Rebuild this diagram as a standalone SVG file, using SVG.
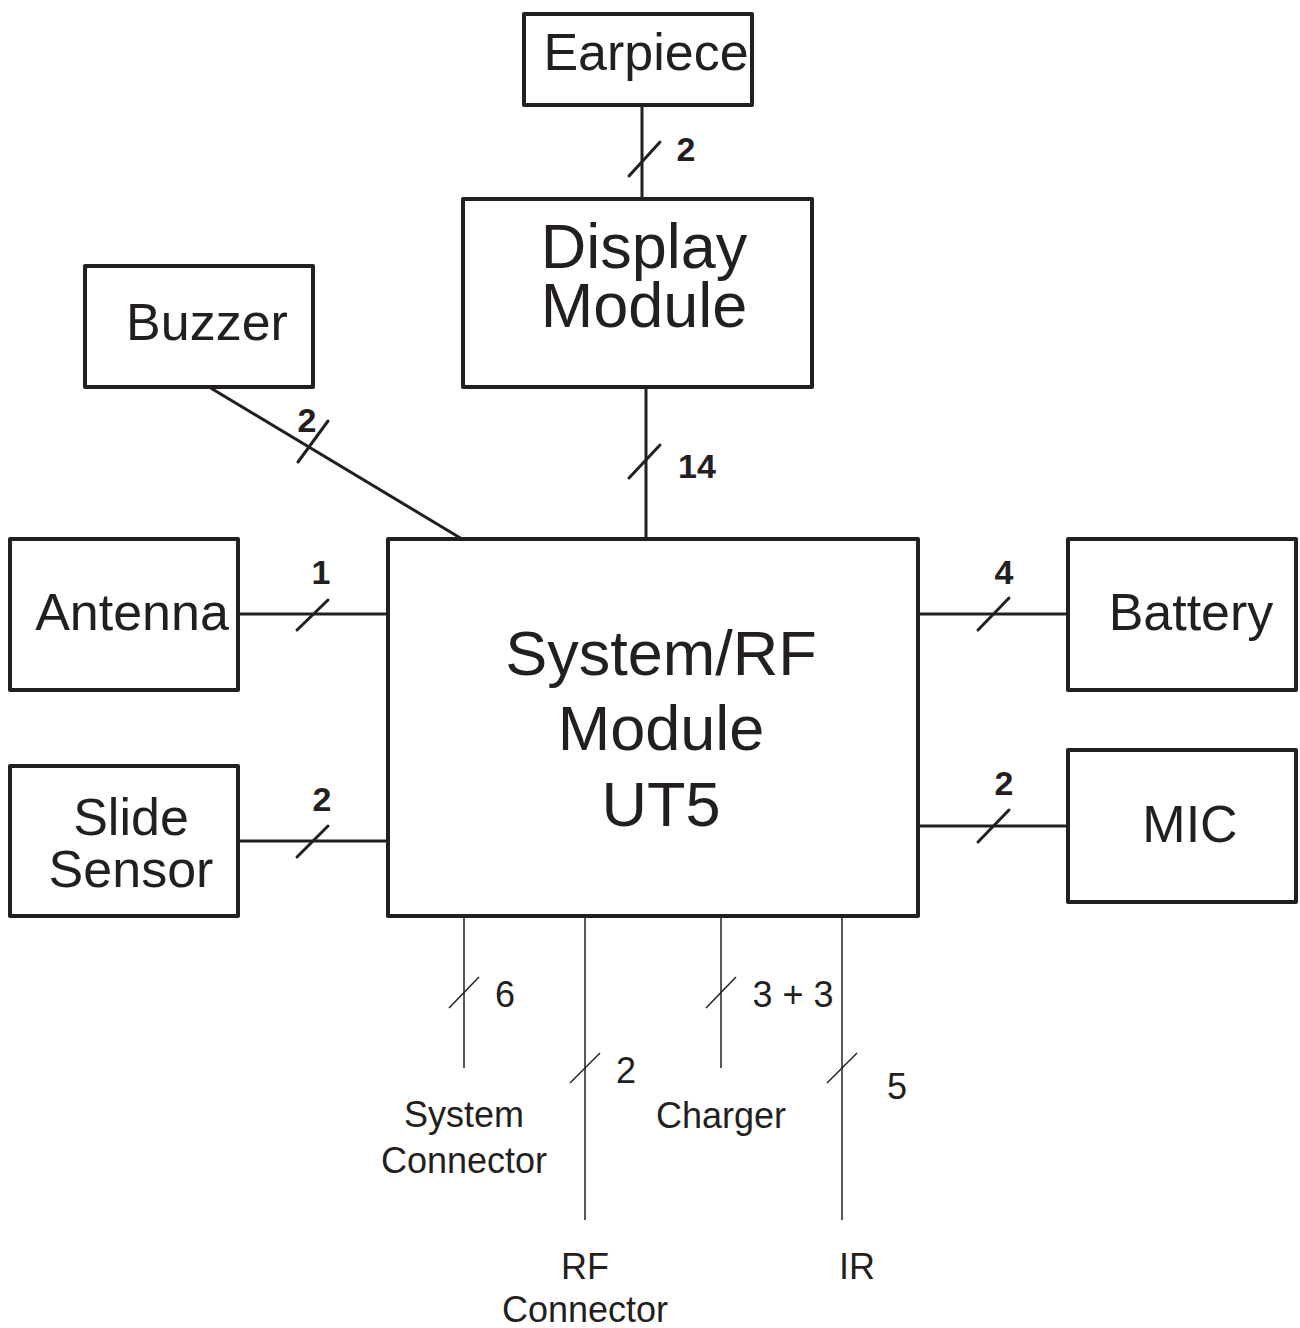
<svg xmlns="http://www.w3.org/2000/svg" width="1300" height="1328" viewBox="0 0 1300 1328">
<style>
.box{fill:#fff;stroke:#231f20;stroke-width:4;stroke-linejoin:round}
.t{font-family:"Liberation Sans",Arial,sans-serif;fill:#231f20;text-anchor:middle}
.big{font-size:52px}
.huge{font-size:63px}
.b{font-family:"Liberation Sans",Arial,sans-serif;font-weight:bold;font-size:34px;fill:#231f20;text-anchor:middle}
.s{font-family:"Liberation Sans",Arial,sans-serif;font-size:36px;fill:#231f20;text-anchor:middle}
.w{stroke:#231f20;stroke-width:3;fill:none;stroke-linecap:round}
.thin{stroke:#231f20;stroke-width:1.5;fill:none}
</style>
<rect width="1300" height="1328" fill="#fff"/>
<g id="connectors">
<line class="w" x1="642" y1="105" x2="642" y2="199"/>
<line class="w" x1="629" y1="176" x2="660" y2="142"/>
<text class="b" x="686" y="161">2</text>
<line class="w" x1="646" y1="387" x2="646" y2="539"/>
<line class="w" x1="629" y1="478" x2="660" y2="445"/>
<text class="b" x="697" y="478">14</text>
<line class="w" x1="209" y1="387" x2="462" y2="539"/>
<line class="w" x1="298" y1="462" x2="328" y2="421"/>
<text class="b" x="307" y="432">2</text>
<line class="w" x1="238" y1="614" x2="388" y2="614"/>
<line class="w" x1="297" y1="630" x2="328" y2="600"/>
<text class="b" x="321" y="584">1</text>
<line class="w" x1="238" y1="841" x2="388" y2="841"/>
<line class="w" x1="297" y1="857" x2="328" y2="826"/>
<text class="b" x="322" y="811">2</text>
<line class="w" x1="918" y1="614" x2="1068" y2="614"/>
<line class="w" x1="978" y1="630" x2="1009" y2="598"/>
<text class="b" x="1004" y="584">4</text>
<line class="w" x1="918" y1="826" x2="1068" y2="826"/>
<line class="w" x1="978" y1="842" x2="1009" y2="810"/>
<text class="b" x="1004" y="795">2</text>
<line class="thin" x1="464" y1="916" x2="464" y2="1068"/>
<line class="thin" x1="449" y1="1008" x2="479" y2="977"/>
<text class="s" x="505" y="1007">6</text>
<line class="thin" x1="585" y1="916" x2="585" y2="1220"/>
<line class="thin" x1="570" y1="1083" x2="600" y2="1053"/>
<text class="s" x="626" y="1083">2</text>
<line class="thin" x1="721" y1="916" x2="721" y2="1068"/>
<line class="thin" x1="706" y1="1008" x2="736" y2="977"/>
<text class="s" x="793" y="1007">3 + 3</text>
<line class="thin" x1="842" y1="916" x2="842" y2="1220"/>
<line class="thin" x1="827" y1="1083" x2="857" y2="1053"/>
<text class="s" x="897" y="1099">5</text>
<text class="s" x="464" y="1127">System</text>
<text class="s" x="464" y="1173">Connector</text>
<text class="s" x="721" y="1128">Charger</text>
<text class="s" x="585" y="1279">RF</text>
<text class="s" x="585" y="1322">Connector</text>
<text class="s" x="857" y="1279">IR</text>
</g>
<g id="earpiece"><rect class="box" x="524" y="14" width="228" height="91"/><text class="t big" x="646" y="70">Earpiece</text></g>
<g id="display"><rect class="box" x="463" y="199" width="349" height="188"/><text class="t huge" x="644" y="268">Display</text><text class="t huge" x="644" y="327">Module</text></g>
<g id="buzzer"><rect class="box" x="85" y="266" width="228" height="121"/><text class="t big" x="207" y="340">Buzzer</text></g>
<g id="antenna"><rect class="box" x="10" y="539" width="228" height="151"/><text class="t big" x="132" y="630">Antenna</text></g>
<g id="slide"><rect class="box" x="10" y="766" width="228" height="150"/><text class="t big" x="131" y="835">Slide</text><text class="t big" x="131" y="887">Sensor</text></g>
<g id="system"><rect class="box" x="388" y="539" width="530" height="377"/><text class="t huge" x="661" y="675">System/RF</text><text class="t huge" x="661" y="750">Module</text><text class="t huge" x="661" y="826">UT5</text></g>
<g id="battery"><rect class="box" x="1068" y="539" width="228" height="151"/><text class="t big" x="1191" y="630">Battery</text></g>
<g id="mic"><rect class="box" x="1068" y="750" width="228" height="152"/><text class="t big" x="1190" y="842">MIC</text></g>
</svg>
